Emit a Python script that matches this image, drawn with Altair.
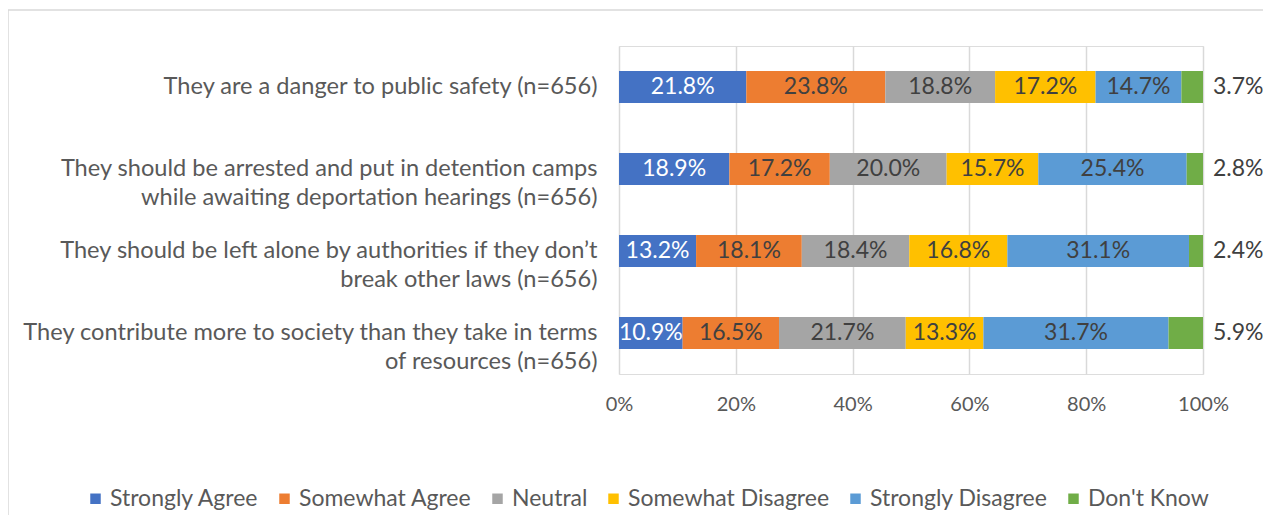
import altair as alt
import pandas as pd

questions = [
    "They are a danger to public safety (n=656)",
    "They should be arrested and put in detention camps|while awaiting deportation hearings (n=656)",
    "They should be left alone by authorities if they don\u2019t|break other laws (n=656)",
    "They contribute more to society than they take in terms|of resources (n=656)",
]
responses = ["Strongly Agree", "Somewhat Agree", "Neutral", "Somewhat Disagree", "Strongly Disagree", "Don't Know"]
colors = ["#4472C4", "#ED7D31", "#A5A5A5", "#FFC000", "#5B9BD5", "#70AD47"]

strongly_agree = [21.8, 18.9, 13.2, 10.9]
somewhat_agree = [23.8, 17.2, 18.1, 16.5]
neutral = [18.8, 20.0, 18.4, 21.7]
somewhat_disagree = [17.2, 15.7, 16.8, 13.3]
strongly_disagree = [14.7, 25.4, 31.1, 31.7]
dont_know = [3.7, 2.8, 2.4, 5.9]

series = [strongly_agree, somewhat_agree, neutral, somewhat_disagree, strongly_disagree, dont_know]
rows = []
for ri, (resp, vals) in enumerate(zip(responses, series)):
    for qi, q in enumerate(questions):
        rows.append({"question": q, "response": resp, "order": ri, "value": vals[qi] / 100.0})
df = pd.DataFrame(rows)

FONT = "Lato"
TXT = "#595959"
FS = 23

base = alt.Chart(df).transform_stack(
    stack="value", groupby=["question"], sort=[alt.SortField("order")], as_=["x0", "x1"]
).transform_calculate(mid="(datum.x0 + datum.x1) / 2")

yenc = alt.Y("question:N", sort=questions, title=None,
             scale=alt.Scale(paddingInner=0.61, paddingOuter=0.305),
             axis=alt.Axis(labelExpr="split(datum.label, '|')", labelFontSize=23.6, labelColor=TXT,
                           labelFont=FONT, labelPadding=22, ticks=False, domain=False,
                           labelLimit=800, labelLineHeight=29))

bars = base.mark_bar(size=32).encode(
    x=alt.X("x0:Q", scale=alt.Scale(domain=[0, 1]),
            axis=alt.Axis(format="%", values=[0, 0.2, 0.4, 0.6, 0.8, 1.0], labelFontSize=20,
                          labelColor=TXT, labelFont=FONT, domain=False, ticks=False,
                          labelFlush=False, labelBound=False,
                          gridColor="#D9D9D9", gridWidth=1.5, labelPadding=20),
            title=None),
    x2="x1:Q",
    y=yenc,
    color=alt.Color("response:N", sort=responses,
                    scale=alt.Scale(domain=responses, range=colors),
                    legend=alt.Legend(title=None, orient="none", direction="horizontal",
                                      legendX=-535, legendY=441, columns=6,
                                      symbolType="square", symbolSize=110, symbolStrokeWidth=0,
                                      labelFontSize=FS, labelColor=TXT, labelFont=FONT,
                                      labelLimit=400, columnPadding=14, symbolOffset=0,
                                      labelOffset=3)),
)

inside = base.transform_filter("datum.response != \"Don't Know\"").mark_text(
    fontSize=FS, font=FONT
).encode(
    x="mid:Q",
    y=alt.Y("question:N", sort=questions),
    text=alt.Text("value:Q", format=".1%"),
    color=alt.condition("datum.response == 'Strongly Agree'", alt.value("white"), alt.value("#404040")),
)

outside = base.transform_filter("datum.response == \"Don't Know\"").mark_text(
    fontSize=FS, font=FONT, align="left", dx=10, color="#404040"
).encode(
    x="x1:Q",
    y=alt.Y("question:N", sort=questions),
    text=alt.Text("value:Q", format=".1%"),
)

frame_src = alt.Chart(pd.DataFrame({"k": [0]}))
frame_left = frame_src.mark_rule(color="#D9D9D9", strokeWidth=1.5).encode(
    x=alt.value(-611), y=alt.value(-36), y2=alt.value(500))
frame_top = frame_src.mark_rule(color="#D9D9D9", strokeWidth=1.5).encode(
    x=alt.value(-611), x2=alt.value(660), y=alt.value(-36))

chart = alt.layer(frame_left, frame_top, bars, inside, outside).properties(
    width=584, height=328, autosize=alt.AutoSizeParams(type="none")
).configure_view(stroke=None).configure(
    background="white", padding={"left": 611, "top": 38, "right": 60, "bottom": 141})

chart.save("out.html", embed_options={"renderer": "svg", "actions": False})
